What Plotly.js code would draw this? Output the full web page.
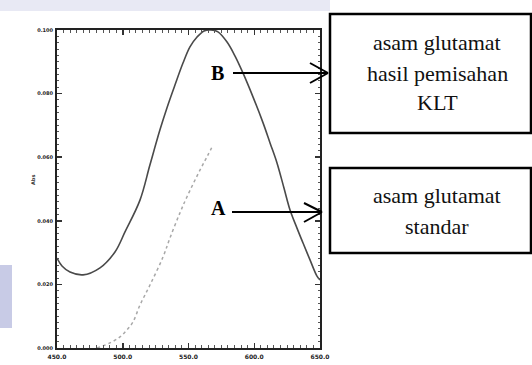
<!DOCTYPE html>
<html>
<head>
<meta charset="utf-8">
<script src="https://cdn.plot.ly/plotly-3.0.1.min.js"></script>
<style>html,body{margin:0;padding:0;background:#fff;}#chart{width:532px;height:365px;}</style>
</head>
<body>
<div id="chart"></div>
<script>
// Curve B: asam glutamat hasil pemisahan KLT (wavelength nm, absorbance)
const wavelengthB = [450.0,453.8,459.9,469.8,482.7,494.1,501.7,513.1,520.7,528.3,533.6,539.7,545.8,551.1,556.5,561.8,567.1,572.4,579.3,585.4,591.4,599.1,606.7,612.0,617.3,622.6,627.2,632.5,637.1,642.4,647.7,650.0];
const absB = [0.0283,0.0258,0.0239,0.0230,0.0252,0.0302,0.0365,0.0465,0.0576,0.0686,0.0755,0.0827,0.0896,0.0947,0.0978,0.0997,0.1000,0.0994,0.0962,0.0918,0.0865,0.0789,0.0708,0.0645,0.0582,0.0503,0.0434,0.0377,0.0330,0.0277,0.0226,0.0214];
// Curve A: asam glutamat standar (visible part)
const wavelengthA = [480.4,490.3,497.9,503.2,507.8,513.1,520.7,530.6,535.9,543.5,548.8,558.8,564.8,568.6];
const absA = [0.0,0.0016,0.0035,0.0057,0.0082,0.0135,0.0198,0.0286,0.0346,0.0425,0.0475,0.0560,0.0607,0.0638];
// Tick labels
const xTickVals = [450,500,550,600,650];
const xTickText = ["450.0","500.0","550.0","600.0","650.0"];
const yTickVals = [0,0.02,0.04,0.06,0.08,0.1];
const yTickText = ["0.000","0.020","0.040","0.060","0.080","0.100"];
const boxBText = ["asam glutamat","hasil pemisahan","KLT"];
const boxAText = ["asam glutamat","standar"];

const L=57, T=30, R=320, B=348;
const px = x => (x-L)/(R-L);
const py = y => (B-y)/(B-T);

const traces = [
  {x: wavelengthB, y: absB, mode:'lines', line:{color:'#4a4a4a', width:1.6, shape:'spline'}, hoverinfo:'none'},
  {x: wavelengthA, y: absA, mode:'lines', line:{color:'#a8a8a8', width:1.5, dash:'dot', shape:'spline'}, hoverinfo:'none'}
];

function seg(x0,y0,x1,y1,w,c){return {type:'line',xref:'paper',yref:'paper',x0:px(x0),y0:py(y0),x1:px(x1),y1:py(y1),line:{color:c||'#000',width:w||2}};}
function rect(x0,y0,x1,y1,w){return {type:'rect',xref:'paper',yref:'paper',x0:px(x0),y0:py(y0),x1:px(x1),y1:py(y1),line:{color:'#000',width:w},fillcolor:'rgba(0,0,0,0)'};}

const shapes = [
  {type:'rect',xref:'paper',yref:'paper',x0:px(0),y0:py(0),x1:px(330),y1:py(11),fillcolor:'#e8e9f4',line:{width:0},layer:'below'},
  {type:'rect',xref:'paper',yref:'paper',x0:px(0),y0:py(265),x1:px(12),y1:py(328),fillcolor:'#c8cbe6',line:{width:0},layer:'below'},
  rect(330,14,531,133,2.5),
  rect(330,168,531,253,2.5),
  seg(233,73,326,73,2), seg(310,63,328,73,2), seg(310,83,328,73,2),
  seg(232,212,320,212,2), seg(304,203,322,212,2), seg(304,222,322,212,2)
];

const serif = '"Liberation Serif"';
const annotations = [];
boxBText.forEach((t,i)=>annotations.push({xref:'paper',yref:'paper',x:px(437),y:py([42,73,103][i]),text:t,showarrow:false,font:{family:serif,size:22,color:'#111'},xanchor:'center',yanchor:'middle'}));
boxAText.forEach((t,i)=>annotations.push({xref:'paper',yref:'paper',x:px(437),y:py([195,226][i]),text:t,showarrow:false,font:{family:serif,size:22,color:'#111'},xanchor:'center',yanchor:'middle'}));
annotations.push({xref:'paper',yref:'paper',x:px(217),y:py(73),text:'<b>B</b>',showarrow:false,font:{family:serif,size:20,color:'#000'},xanchor:'center',yanchor:'middle'});
annotations.push({xref:'paper',yref:'paper',x:px(218),y:py(208),text:'<b>A</b>',showarrow:false,font:{family:serif,size:20,color:'#000'},xanchor:'center',yanchor:'middle'});
annotations.push({xref:'paper',yref:'paper',x:px(33),y:py(180),text:'<b>Abs</b>',textangle:-90,showarrow:false,font:{family:'DejaVu Sans',size:5,color:'#333'},xanchor:'center',yanchor:'middle'});

const layout = {
  width:532, height:365,
  margin:{l:L, r:532-R, t:T, b:365-B},
  paper_bgcolor:'#fff', plot_bgcolor:'#fff',
  showlegend:false,
  xaxis:{range:[450,650], tickvals:xTickVals, ticktext:xTickText, showgrid:false, zeroline:false,
    showline:true, linecolor:'#222', linewidth:2, mirror:'ticks', ticks:'inside', ticklen:5, tickcolor:'#333', tickwidth:1.5,
    minor:{dtick:5, ticks:'inside', ticklen:3, tickcolor:'#555', tickwidth:1, showgrid:false},
    tickfont:{family:'DejaVu Sans', size:6, color:'#222', weight:'bold'}, ticklabelstandoff:2},
  yaxis:{range:[0,0.1], tickvals:yTickVals, ticktext:yTickText, showgrid:false, zeroline:false,
    showline:true, linecolor:'#222', linewidth:2, mirror:'ticks', ticks:'inside', ticklen:5, tickcolor:'#333', tickwidth:1.5,
    minor:{dtick:0.002, ticks:'inside', ticklen:2, tickcolor:'#555', tickwidth:1, showgrid:false},
    tickfont:{family:'DejaVu Sans', size:5, color:'#222', weight:'bold'}, ticklabelstandoff:1},
  shapes:shapes,
  annotations:annotations
};

Plotly.newPlot('chart', traces, layout, {staticPlot:true, displayModeBar:false});
</script>
</body>
</html>
